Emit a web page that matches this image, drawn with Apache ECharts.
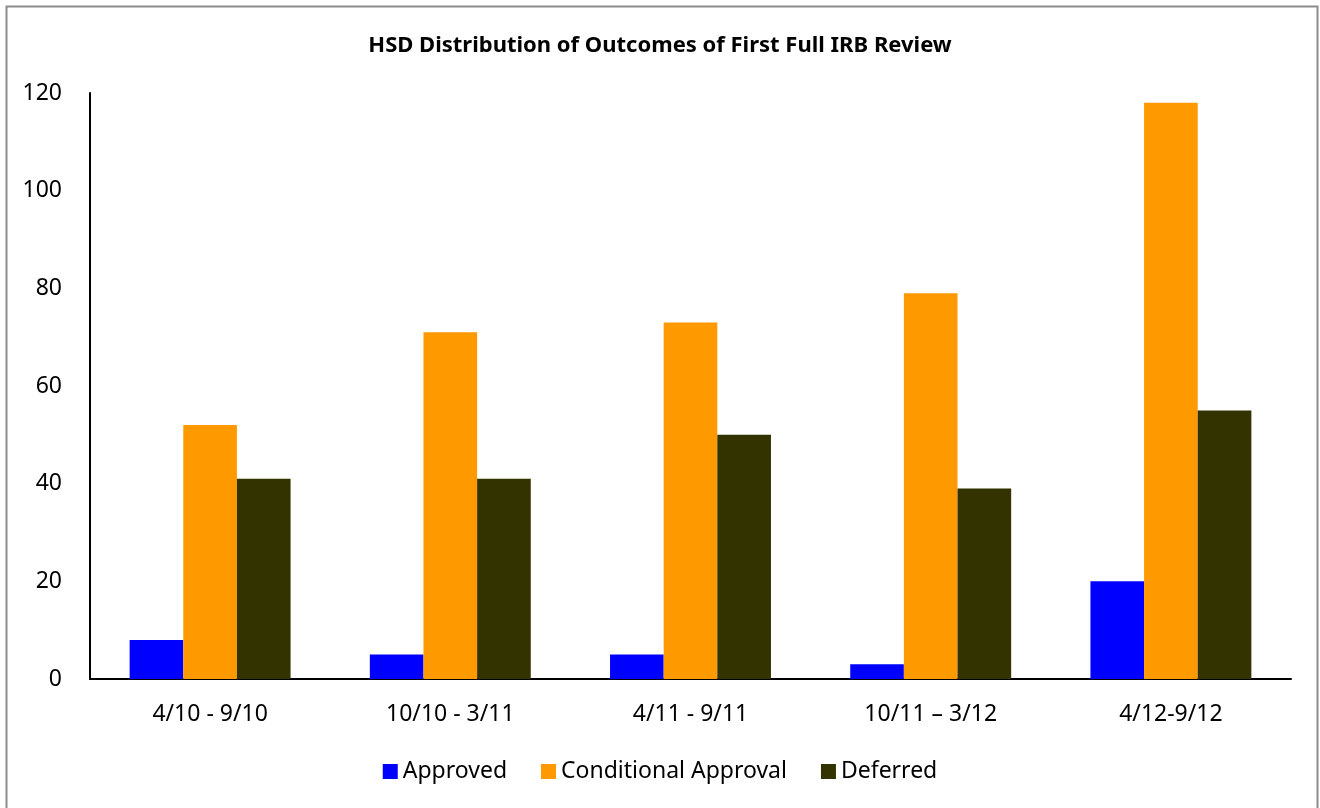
<!DOCTYPE html>
<html>
<head>
<meta charset="utf-8">
<script src="https://cdn.jsdelivr.net/npm/echarts@6/dist/echarts.min.js"></script>
<style>
  html, body { margin: 0; padding: 0; background: #fff; }
  #chart { width: 1320px; height: 808px; }
</style>
</head>
<body>
<div id="chart"></div>
<script>
const categories = ['4/10 - 9/10', '10/10 - 3/11', '4/11 - 9/11', '10/11 \u2013 3/12', '4/12-9/12'];
const approved = [8, 5, 5, 3, 20];
const conditional = [52, 71, 73, 79, 118];
const deferred = [41, 41, 50, 39, 55];

const chart = echarts.init(document.getElementById('chart'));
const font = 'Noto Sans';

const option = {
  backgroundColor: '#fff',
  animation: false,
  title: {
    text: 'HSD Distribution of Outcomes of First Full IRB Review',
    left: 'center',
    top: 30,
    textStyle: { fontFamily: font, fontSize: 22, fontWeight: 'bold', color: '#000' }
  },
  graphic: [{
    type: 'rect',
    shape: { x: 6.5, y: 6.5, width: 1311, height: 805 },
    style: { fill: null, stroke: '#8c8c8c', lineWidth: 2 },
    silent: true
  }],
  legend: {
    bottom: 20,
    left: 'center',
    itemWidth: 15,
    itemHeight: 15,
    itemGap: 34,
    icon: 'rect',
    textStyle: { fontFamily: font, fontSize: 23, color: '#000' },
    data: ['Approved', 'Conditional Approval', 'Deferred']
  },
  grid: { left: 90, right: 29, top: 93, bottom: 129 },
  xAxis: {
    type: 'category',
    data: categories,
    axisLine: { lineStyle: { color: '#000', width: 2 } },
    axisTick: { show: false },
    axisLabel: { fontFamily: font, fontSize: 23, color: '#000', margin: 24 }
  },
  yAxis: {
    type: 'value',
    min: 0,
    max: 120,
    interval: 20,
    axisLine: { show: true, lineStyle: { color: '#000', width: 2 } },
    axisTick: { show: false },
    splitLine: { show: false },
    axisLabel: { fontFamily: font, fontSize: 23, color: '#000', margin: 28 }
  },
  series: [
    { name: 'Approved', type: 'bar', data: approved, itemStyle: { color: '#0000FF' }, barGap: '0%', barCategoryGap: '33%' },
    { name: 'Conditional Approval', type: 'bar', data: conditional, itemStyle: { color: '#FF9900' } },
    { name: 'Deferred', type: 'bar', data: deferred, itemStyle: { color: '#333300' } }
  ]
};

chart.setOption(option);
</script>
</body>
</html>
